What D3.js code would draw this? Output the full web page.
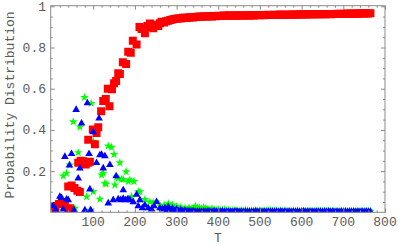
<!DOCTYPE html>
<html><head><meta charset="utf-8">
<script src="https://cdn.jsdelivr.net/npm/d3@7"></script>
<style>body{margin:0;background:#fff}svg{display:block}</style>
</head><body>
<svg id="c" width="400" height="247"></svg>
<script>
// ---- data ----
const xTicks = [100,200,300,400,500,600,700,800];
const yTicks = [0.2,0.4,0.6,0.8,1];
const yTickLabels = ["0.2","0.4","0.6","0.8","1"];

const redT = [4,9,18,25,32,40,44, 40,48,55,62,68, 64,70,76,82,88,92, 88,99,104,108,112,
  119,124,130,135,139,145,150,155,160,164,171,179,184,190,195,204,211,216,220,224,230,236,240,244,250,256,260,264,270,275];
const redP = [0.03,0.011,0.04,0.05,0.03,0.015,0.02, 0.125,0.13,0.118,0.105,0.098, 0.24,0.25,0.248,0.232,0.24,0.245, 0.352,0.402,0.33,0.385,0.413,
  0.49,0.54,0.55,0.6,0.515,0.597,0.626,0.637,0.675,0.671,0.728,0.72,0.78,0.775,0.833,0.815,0.9,0.89,0.893,0.869,0.905,0.917,0.9,0.893,0.91,0.904,0.918,0.925,0.922,0.928];

const greenT = [12,28,28,36,44,52,56,64,68,79,84,92,95,100,100,116,120,124,128,131,136,144,150,152,156,160,164,168,172,179,184,188,192,198,208,212,224,236,244,252,262,270];
const greenP = [0.01,0.02,0.176,0.19,0.23,0.44,0.02,0.29,0.414,0.558,0.076,0.01,0.529,0.10,0.345,0.064,0.181,0.19,0.141,0.137,0.322,0.316,0.281,0.133,0.17,0.165,0.241,0.16,0.16,0.197,0.149,0.157,0.076,0.15,0.10,0.10,0.062,0.05,0.047,0.05,0.03,0.035];

const blueT = [4,10,20,24,28,32,36,40,43,48,54,59,64,68,72,80,86,90,92,94,100,108,114,116,120,124,128,136,140,148,155,160,166,172,172,178,183,188,196,204,208,212,218,224,232,240,246,252,260,266,272,278];
const blueP = [0.031,0.015,0.076,0.07,0.015,0.27,0.063,0.06,0.228,0.284,0.011,0.498,0.165,0.214,0.432,0.011,0.53,0.284,0.112,0.01,0.39,0.24,0.456,0.278,0.28,0.214,0.273,0.044,0.23,0.06,0.176,0.064,0.06,0.108,0.066,0.06,0.064,0.06,0.05,0.086,0.03,0.06,0.02,0.035,0.02,0.015,0.03,0.051,0.02,0.015,0.02,0.012];

const tailT = [280,285,290,295,300,305,310,315,320,325,
  330,335,340,345,350,355,360,365,370,375,
  380,385,390,395,400,405,410,415,420,425,
  430,435,440,445,450,455,460,465,470,475,
  480,485,490,495,500,505,510,515,520,525,
  530,535,540,545,550,555,560,565,570,575,
  580,585,590,595,600,605,610,615,620,625,
  630,635,640,645,650,655,660,665,670,675,
  680,685,690,695,700,705,710,715,720,725,
  730,735,740,745,750,755,760,765];
const redTail = [0.930,0.934,0.936,0.938,0.940,0.942,0.941,0.944,0.945,0.944,
  0.946,0.947,0.946,0.948,0.949,0.950,0.949,0.951,0.950,0.952,
  0.952,0.951,0.953,0.952,0.954,0.953,0.954,0.955,0.954,0.955,
  0.955,0.954,0.955,0.956,0.955,0.956,0.955,0.956,0.957,0.956,
  0.957,0.956,0.957,0.958,0.957,0.958,0.957,0.958,0.959,0.958,
  0.958,0.959,0.958,0.959,0.960,0.959,0.958,0.959,0.960,0.959,
  0.960,0.959,0.960,0.961,0.960,0.961,0.960,0.961,0.962,0.961,
  0.961,0.962,0.961,0.962,0.963,0.962,0.962,0.963,0.962,0.963,
  0.963,0.964,0.963,0.964,0.963,0.964,0.965,0.964,0.964,0.965,
  0.965,0.964,0.965,0.966,0.965,0.966,0.965,0.966];
const greenTail = [0.042,0.030,0.036,0.022,0.028,0.018,0.024,0.016,0.020,0.014,
  0.022,0.016,0.018,0.030,0.020,0.022,0.018,0.024,0.020,0.016,
  0.014,0.018,0.012,0.010,0.014,0.008,0.010,0.012,0.008,0.010,
  0.007,0.009,0.011,0.008,0.006,0.009,0.007,0.010,0.008,0.006,
  0.008,0.007,0.009,0.006,0.008,0.007,0.006,0.008,0.007,0.009,
  0.006,0.008,0.007,0.005,0.007,0.006,0.008,0.006,0.007,0.005,
  0.007,0.006,0.008,0.005,0.006,0.007,0.005,0.006,0.008,0.005,
  0.006,0.005,0.007,0.006,0.005,0.007,0.006,0.005,0.006,0.007,
  0.005,0.006,0.005,0.007,0.005,0.006,0.005,0.006,0.007,0.005,
  0.006,0.005,0.006,0.005,0.006,0.005,0.006,0.005];
const blueTail = [0.026,0.012,0.018,0.008,0.014,0.006,0.010,0.005,0.008,0.004,
  0.006,0.004,0.007,0.003,0.005,0.004,0.003,0.005,0.003,0.004,
  0.003,0.002,0.004,0.003,0.002,0.003,0.004,0.002,0.003,0.002,
  0.003,0.002,0.003,0.004,0.002,0.003,0.002,0.003,0.002,0.003,
  0.002,0.003,0.004,0.002,0.003,0.002,0.003,0.002,0.003,0.002,
  0.003,0.002,0.003,0.002,0.004,0.002,0.003,0.002,0.003,0.002,
  0.003,0.002,0.003,0.002,0.003,0.004,0.002,0.003,0.002,0.003,
  0.002,0.003,0.002,0.003,0.002,0.003,0.002,0.004,0.002,0.003,
  0.002,0.003,0.002,0.003,0.002,0.003,0.002,0.003,0.002,0.003,
  0.002,0.003,0.002,0.003,0.002,0.003,0.002,0.003];

// ---- layout ----
const L = 50.7, R = 385, T0 = 5.7, B = 212.3;
const svg = d3.select("#c");
const x = d3.scaleLinear().domain([-2, 800]).range([L, R]);
const y = d3.scaleLinear().domain([0, 1.003]).range([B, T0]);
const FONT = "'Liberation Mono','Courier New',monospace";
const frameColor = "#8a8a8a";
const textColor = "#5a5a5a";

svg.append("defs").append("clipPath").attr("id","clip")
  .append("rect").attr("x",L).attr("y",T0).attr("width",R-L).attr("height",B-T0);

function pairs(ts, ps){ return ts.map((t,i)=>({t, p: ps[i]})); }
const green = pairs(greenT, greenP).concat(pairs(tailT, greenTail));
const red = pairs(redT, redP).concat(pairs(tailT, redTail));
const blue = pairs(blueT, blueP).concat(pairs(tailT, blueTail));

const plot = svg.append("g").attr("clip-path","url(#clip)");
const star = d3.symbol().type(d3.symbolStar).size(24)();
const tri = d3.symbol().type(d3.symbolTriangle).size(25)();
const sq = d3.symbol().type(d3.symbolSquare).size(64)();

plot.append("g").selectAll("path").data(green).join("path")
  .attr("d", star).attr("fill","#00ff00")
  .attr("transform", d=>`translate(${x(d.t)},${y(d.p)})`);
plot.append("g").selectAll("path").data(red).join("path")
  .attr("d", sq).attr("fill","#ff0000")
  .attr("transform", d=>`translate(${x(d.t)},${y(d.p)})`);
plot.append("g").selectAll("path").data(blue).join("path")
  .attr("d", tri).attr("fill","#0000ff")
  .attr("transform", d=>`translate(${x(d.t)},${y(d.p)})`);

// ---- frame & ticks ----
const xMinor = d3.range(20, 800, 20).filter(v => v % 100 !== 0);
const yMinor = d3.range(1, 20).map(i => i*0.05).filter(v => Math.abs(v*5 - Math.round(v*5)) > 1e-6);

function styleAxis(g){
  g.select(".domain").remove();
  g.selectAll("line").attr("stroke", frameColor);
  g.selectAll("text").remove();
}
svg.append("g").attr("transform",`translate(0,${B})`).call(d3.axisBottom(x).tickValues(xTicks).tickSize(-4)).call(styleAxis);
svg.append("g").attr("transform",`translate(0,${B})`).call(d3.axisBottom(x).tickValues(xMinor).tickSize(-2)).call(styleAxis);
svg.append("g").attr("transform",`translate(0,${T0})`).call(d3.axisTop(x).tickValues(xTicks).tickSize(-4)).call(styleAxis);
svg.append("g").attr("transform",`translate(0,${T0})`).call(d3.axisTop(x).tickValues(xMinor).tickSize(-2)).call(styleAxis);
svg.append("g").attr("transform",`translate(${L},0)`).call(d3.axisLeft(y).tickValues(yTicks).tickSize(-4)).call(styleAxis);
svg.append("g").attr("transform",`translate(${L},0)`).call(d3.axisLeft(y).tickValues(yMinor).tickSize(-2)).call(styleAxis);
svg.append("g").attr("transform",`translate(${R},0)`).call(d3.axisRight(y).tickValues(yTicks).tickSize(-4)).call(styleAxis);
svg.append("g").attr("transform",`translate(${R},0)`).call(d3.axisRight(y).tickValues(yMinor).tickSize(-2)).call(styleAxis);

svg.append("rect").attr("x",L).attr("y",T0).attr("width",R-L).attr("height",B-T0)
  .attr("fill","none").attr("stroke",frameColor).attr("stroke-width",1);

// tick labels
svg.append("g").selectAll("text").data(xTicks).join("text")
  .attr("x", d=>x(d)).attr("y", 225.5).attr("text-anchor","middle")
  .attr("font-family",FONT).attr("font-size",13).attr("fill",textColor)
  .text(d=>String(d));
svg.append("g").selectAll("text").data(yTicks).join("text")
  .attr("x", 46).attr("y", d=>y(d)).attr("dy","0.35em").attr("text-anchor","end")
  .attr("font-family",FONT).attr("font-size",13).attr("fill",textColor)
  .text((d,i)=>yTickLabels[i]);

// axis titles
svg.append("text").attr("x",(L+R)/2).attr("y",242).attr("text-anchor","middle")
  .attr("font-family",FONT).attr("font-size",13).attr("fill",textColor).text("T");
svg.append("text").attr("transform",`translate(14,105) rotate(-90)`).attr("text-anchor","middle")
  .attr("font-family",FONT).attr("font-size",13).attr("fill",textColor).text("Probability Distribution");
</script>
</body></html>
